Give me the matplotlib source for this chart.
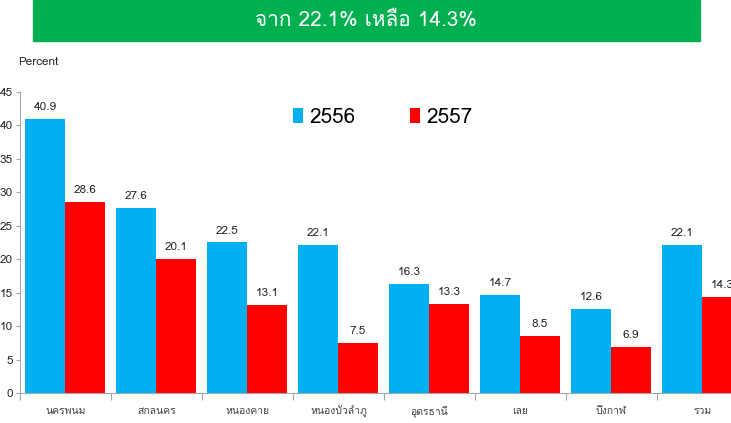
import numpy as np
import matplotlib
matplotlib.use('Agg')
import matplotlib.pyplot as plt
import matplotlib.font_manager as fm
from matplotlib.ft2font import FT2Font

# data
provinces = ['นครพนม', 'สกลนคร', 'หนองคาย', 'หนองบัวลำภู',
             'อุดรธานี', 'เลย', 'บึงกาฬ', 'รวม']
y2556 = [40.9, 27.6, 22.5, 22.1, 16.3, 14.7, 12.6, 22.1]
y2557 = [28.6, 20.1, 13.1, 7.5, 13.3, 8.5, 6.9, 14.3]
years = ['2556', '2557']
title = 'จาก 22.1% เหลือ 14.3%'

# find an installed font that has thai glyphs
thai = None
for f in fm.fontManager.ttflist:
    try:
        if 0x0E01 in FT2Font(f.fname).get_charmap():
            thai = f.name
            break
    except Exception:
        pass
fams = ['DejaVu Sans'] if thai is None else [thai, 'DejaVu Sans']
plt.rcParams['font.family'] = fams

blue = '#00B0F0'
red = '#FF0000'
grey = '#A6A6A6'

fig = plt.figure(figsize=(7.31, 4.23), dpi=100)
# axes runs past the right edge, as in the reference
ax = fig.add_axes([20/731, 30/423, 728/731, 301/423])

x = np.arange(len(provinces))
w = 0.44
b1 = ax.bar(x + 0.055, y2556, w, align='edge', color=blue, label=years[0])
b2 = ax.bar(x + 0.055 + w, y2557, w, align='edge', color=red, label=years[1])
for bars in (b1, b2):
    for r in bars:
        ax.annotate('%.1f' % r.get_height(),
                    (r.get_x() + r.get_width()/2, r.get_height()),
                    xytext=(0, 5), textcoords='offset points',
                    ha='center', va='bottom', fontsize=8.5, color='#262626')

ax.set_xlim(0, len(provinces))
ax.set_ylim(0, 45)
ax.set_yticks(np.arange(0, 46, 5))
ax.set_xticks(np.arange(0, len(provinces) + 1))
ax.set_xticklabels([])
ax.set_xticks(x + 0.5, minor=True)
ax.set_xticklabels(provinces, minor=True, fontsize=7.5, color='#404040')
ax.tick_params(axis='x', which='minor', length=0, pad=9)
ax.tick_params(axis='x', which='major', length=5, color=grey, direction='out')
ax.tick_params(axis='y', length=3, color=grey, labelsize=8.5,
               labelcolor='#262626', pad=2)
for s in ['top', 'right']:
    ax.spines[s].set_visible(False)
for s in ['left', 'bottom']:
    ax.spines[s].set_color(grey)

leg = fig.legend(handles=[b1, b2], labels=years, loc='center left',
                 bbox_to_anchor=(293/731, 1 - 117/423), ncol=2,
                 frameon=False, fontsize=15, handlelength=0.5,
                 handleheight=0.75, handletextpad=0.3, columnspacing=2.6,
                 borderpad=0, borderaxespad=0)

fig.text(18/731, 1 - 62/423, 'Percent', fontsize=8.5, va='center',
         color='#262626')

# green title banner
fig.patches.append(plt.Rectangle((33/731, 1 - 41/423), 667/731, 41/423,
                                 transform=fig.transFigure, color='#00B050',
                                 zorder=0))
fig.text(366/731, 1 - 21/423, title, fontsize=15, color='white',
         ha='center', va='center')

fig.savefig('out.png', dpi=100)
